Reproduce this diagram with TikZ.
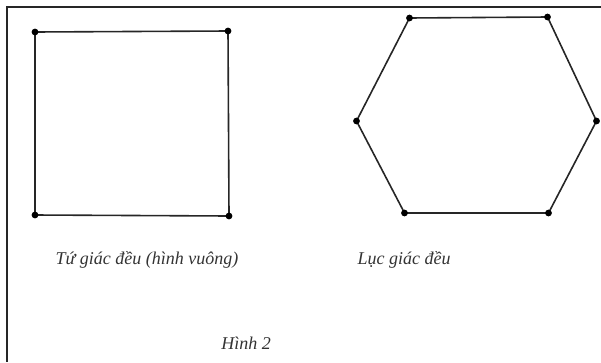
\documentclass[tikz,border=0pt]{standalone}
\usepackage{fontspec}
\setmainfont{Liberation Serif}

\begin{document}
\begin{tikzpicture}[x=1pt, y=-1pt, every node/.style={font=\fontsize{18}{20}\selectfont\itshape, text=black!80},
	side/.style={line width=1.6pt, black!85}]
	\useasboundingbox (0,0) rectangle (601,362);
	\draw[line width=1.4pt, black!85] (601,7) -- (7,7) -- (7,362);
	% square
	\foreach \n/\x/\y in {s1/35/32, s2/228/31, s3/229/216, s4/35/215} {
		\coordinate (\n) at (\x,\y);
	}
	\draw[side] (s1) -- (s2) -- (s3) -- (s4) -- cycle;
	% hexagon
	\foreach \n/\x/\y in {h1/409.5/18, h2/547.5/17, h3/596.5/121, h4/548.5/213, h5/404.5/213, h6/356.5/121} {
		\coordinate (\n) at (\x,\y);
	}
	\draw[side] (h1) -- (h2) -- (h3) -- (h4) -- (h5) -- (h6) -- cycle;
	\foreach \v in {s1,s2,s3,s4,h1,h2,h3,h4,h5,h6} {
		\fill[black] (\v) circle (3.4pt);
	}
	\node (sqname) at (147,260) {Tứ giác đều (hình vuông)};
	\node (hexname) at (404,260) {Lục giác đều};
	\node (caption) at (246,343) {Hình 2};
\end{tikzpicture}
\end{document}
